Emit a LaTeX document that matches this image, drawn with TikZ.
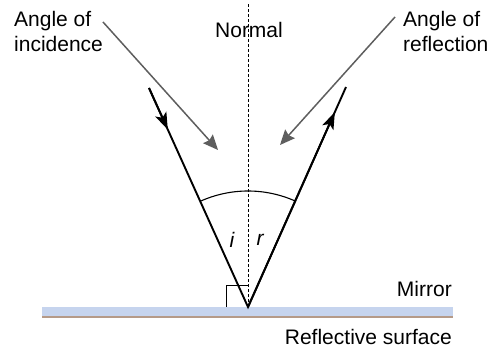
\documentclass[tikz,border=0pt]{standalone}
\usepackage{fontspec}
\setmainfont{Liberation Sans}
\usetikzlibrary{arrows.meta}

\begin{document}
\begin{tikzpicture}[x=1pt,y=1pt,
  ray/.style={line width=1.9pt},
  pointer/.style={line width=1.5pt,draw=pointgray,-{Stealth[length=15pt,width=13pt,inset=2pt]}},
  lbl/.style={inner sep=0pt,font=\fontsize{21}{25}\selectfont}]
\definecolor{pointgray}{HTML}{5E5E5E}
\definecolor{mirrorblue}{HTML}{C6D4EE}
\definecolor{surfbrown}{HTML}{B59A88}
\useasboundingbox (0,0) rectangle (498,350);
% mirror
\fill[mirrorblue] (42,33) rectangle (453,43);
\draw[surfbrown,line width=1.5pt] (42,33)--(453,33);
\coordinate (O) at (248,43);
\coordinate (inTop) at (149,262);
\coordinate (reTop) at (346,263);
\draw[dashed,line width=0.8pt,dash pattern=on 3pt off 2pt] (O)--(248,347);
\draw[line width=0.9pt] (O)++(-22,0)--++(0,22)--++(22,0);
% rays
\path (inTop)--coordinate[pos=0.19] (inMid) (O);
\path (O)--coordinate[pos=0.886] (reMid) (reTop);
\draw[ray] (inTop)--(O)--(reTop);
\draw[ray,-{Stealth[length=17pt,width=12pt,inset=4pt]}] (inTop)--(inMid);
\draw[ray,-{Stealth[length=17pt,width=12pt,inset=4pt]}] (O)--(reMid);
\draw[line width=1.1pt] (O) ++(114.3:116) arc[start angle=114.3,end angle=66,radius=116];
\node[lbl,font=\fontsize{21}{25}\selectfont\itshape] (iLbl) at (232,110) {i};
\node[lbl,font=\fontsize{21}{25}\selectfont\itshape] (rLbl) at (260,110) {r};
% labels
\node[lbl,anchor=north west,align=left] (incid) at (14,339) {Angle of\\incidence};
\node[lbl,anchor=north west,align=left] (refl) at (403,339) {Angle of\\reflection};
\node[lbl,anchor=base] (normal) at (249,312) {Normal};
\node[lbl,anchor=base east] (mirror) at (452,53) {Mirror};
\node[lbl,anchor=base east] (surf) at (452,5) {Reflective surface};
\coordinate (inTip) at (218,200);
\coordinate (reTip) at (280,205);
\draw[pointer] (103,328)--(inTip);
\draw[pointer] (395,333)--(reTip);
\end{tikzpicture}
\end{document}
